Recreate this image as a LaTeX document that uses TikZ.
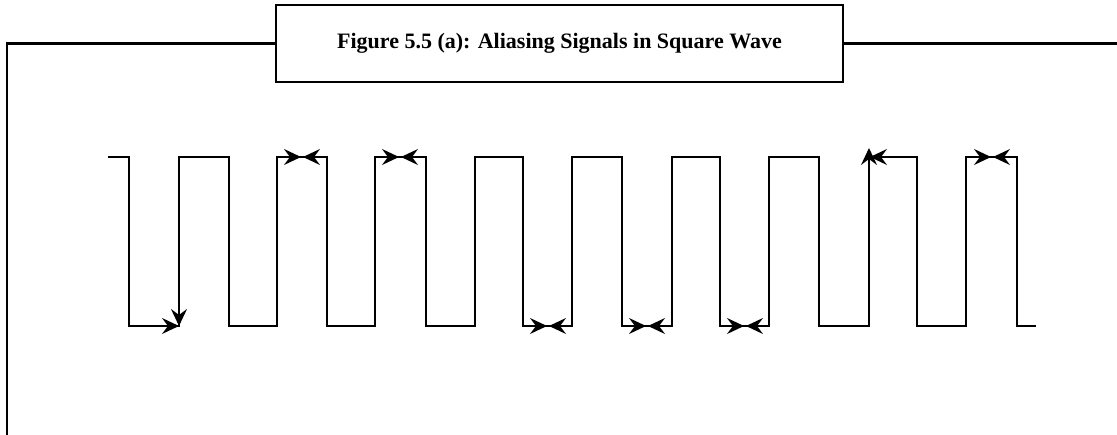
\documentclass[tikz,border=0pt]{standalone}
\usepackage{fontspec}
\setmainfont{Liberation Serif}
\usetikzlibrary{arrows.meta}
\begin{document}
\begin{tikzpicture}[x=1pt,y=-1pt,
  frameline/.style={line width=2.6pt},
  titlebox/.style={draw,line width=2.6pt,minimum width=567pt,minimum height=77pt,inner sep=0pt,font=\fontsize{22}{26}\selectfont\bfseries},
  wave/.style={line width=1.4pt},
  pointer/.style={line width=1.4pt,-{Stealth[length=17pt,width=16pt,inset=6pt]}}]
\useasboundingbox (0,0) rectangle (1117,435);
\node[titlebox] (title) at (559.5,43.5) {Figure 5.5 (a): Aliasing Signals in Square Wave};
\draw[frameline] (title.west) -- (7,43.5) -- (7,436);
\draw[frameline] (title.east) -- (1118,43.5);
% square wave
\def\hi{157}\def\lo{326}
\draw[wave] (108,\hi) -- (129,\hi) -- (129,\lo) -- (179,\lo) -- (179,\hi) -- (229,\hi) -- (229,\lo)
  -- (277,\lo) -- (277,\hi) -- (327,\hi) -- (327,\lo)
  -- (375,\lo) -- (375,\hi) -- (426,\hi) -- (426,\lo)
  -- (475,\lo) -- (475,\hi) -- (523,\hi) -- (523,\lo)
  -- (572,\lo) -- (572,\hi) -- (622,\hi) -- (622,\lo)
  -- (672,\lo) -- (672,\hi) -- (720,\hi) -- (720,\lo)
  -- (769,\lo) -- (769,\hi) -- (819,\hi) -- (819,\lo)
  -- (869,\lo) -- (869,\hi) -- (917,\hi) -- (917,\lo)
  -- (966,\lo) -- (966,\hi) -- (1017,\hi) -- (1017,\lo) -- (1036,\lo);
% arrow coordinates
\coordinate (c1) at (179,\lo);
\coordinate (a1v) at (179,296);
\coordinate (a1h) at (155,\lo);
\coordinate (m1) at (302,\hi); \coordinate (m1l) at (277,\hi); \coordinate (m1r) at (327,\hi);
\coordinate (m2) at (400,\hi); \coordinate (m2l) at (375,\hi); \coordinate (m2r) at (426,\hi);
\coordinate (m3) at (548,\lo); \coordinate (m3l) at (523,\lo); \coordinate (m3r) at (572,\lo);
\coordinate (m4) at (647,\lo); \coordinate (m4l) at (622,\lo); \coordinate (m4r) at (672,\lo);
\coordinate (m5) at (745,\lo); \coordinate (m5l) at (720,\lo); \coordinate (m5r) at (769,\lo);
\coordinate (c2) at (869,\hi);
\coordinate (a2v) at (869,192);
\coordinate (a2h) at (894,\hi);
\coordinate (m6) at (992,\hi); \coordinate (m6l) at (966,\hi); \coordinate (m6r) at (1017,\hi);
\draw[pointer] (a1v) -- (c1);
\draw[pointer] (a1h) -- (c1);
\draw[pointer] (a2v) -- ([yshift=9pt]c2);
\draw[pointer] (a2h) -- ([xshift=1pt]c2);
\foreach \m in {m1,m2,m3,m4,m5,m6}{
  \draw[pointer] (\m l) -- ([xshift=-1pt]\m);
  \draw[pointer] (\m r) -- ([xshift=1pt]\m);
}
\end{tikzpicture}
\end{document}
